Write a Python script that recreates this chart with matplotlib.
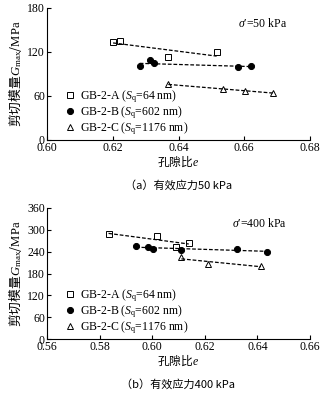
import numpy as np
import matplotlib
matplotlib.use('Agg')
import matplotlib.pyplot as plt

plt.rcParams['font.family'] = ['Liberation Serif', 'Noto Sans CJK SC']
plt.rcParams['mathtext.fontset'] = 'custom'
plt.rcParams['mathtext.rm'] = 'Liberation Serif'
plt.rcParams['mathtext.it'] = 'Liberation Serif:italic'
plt.rcParams['mathtext.bf'] = 'Liberation Serif:bold'

# (a) 有效应力 50 kPa
e_a50 = [0.6201, 0.6221, 0.6369, 0.6516]
g_a50 = [133.5, 134.9, 113.0, 119.4]
e_b50 = [0.6282, 0.6313, 0.6326, 0.6582, 0.6620]
g_b50 = [100.3, 108.5, 104.4, 98.9, 101.2]
e_c50 = [0.6369, 0.6536, 0.6602, 0.6686]
g_c50 = [76.1, 69.3, 66.5, 64.7]

# (b) 有效应力 400 kPa
e_a400 = [0.5834, 0.6019, 0.6092, 0.6139]
g_a400 = [287.9, 283.3, 253.2, 265.0]
e_b400 = [0.5938, 0.5985, 0.6004, 0.6111, 0.6321, 0.6435]
g_b400 = [255.0, 254.0, 246.8, 244.0, 247.7, 239.5]
e_c400 = [0.6111, 0.6214, 0.6413]
g_c400 = [224.9, 205.7, 201.1]

labels = ['GB-2-A ($S_\\mathrm{q}$=64 nm)',
          'GB-2-B ($S_\\mathrm{q}$=602 nm)',
          'GB-2-C ($S_\\mathrm{q}$=1176 nm)']
styles = [dict(marker='s', mfc='white', mec='black', ms=3.8),
          dict(marker='o', mfc='black', mec='black', ms=4.4),
          dict(marker='^', mfc='white', mec='black', ms=4.6)]

cjk = {'family': ['Noto Sans CJK SC', 'Liberation Serif']}

fig = plt.figure(figsize=(3.26, 3.95), dpi=100)
W, H = 326, 395


def panel(box, series, xlim, xticks, ylim, yticks, sigma, caption):
    l, t, r, b = box
    ax = fig.add_axes([l / W, 1 - b / H, (r - l) / W, (b - t) / H])
    for (e, g), st, lab in zip(series, styles, labels):
        ax.plot(e, g, ls='none', mew=0.7, label=lab, **st)
        k, c = np.polyfit(e, g, 1)
        xs = np.array([min(e), max(e)])
        ax.plot(xs, k * xs + c, ls=(0, (3, 1.5)), color='black', lw=0.9)
    ax.set_xlim(*xlim)
    ax.set_ylim(*ylim)
    ax.set_xticks(xticks)
    ax.set_yticks(yticks)
    ax.set_xticklabels(['%.2f' % v for v in xticks])
    ax.spines['top'].set_visible(False)
    ax.spines['right'].set_visible(False)
    for s in ('left', 'bottom'):
        ax.spines[s].set_linewidth(0.8)
    ax.tick_params(direction='in', length=3, width=0.8, labelsize=8.5, pad=1.5)
    ax.set_xlabel('孔隙比$e$', fontsize=8.5, labelpad=0, **cjk)
    ax.set_ylabel('剪切模量$G_\\mathrm{max}$/$\\mathrm{MPa}$', fontsize=9.2,
                  labelpad=2, **cjk)
    ax.text(0.913, 0.885, sigma, transform=ax.transAxes, ha='right',
            va='center', fontsize=8.5)
    ax.legend(loc='lower left', bbox_to_anchor=(0.03, -0.04), frameon=False,
              fontsize=8.5, handletextpad=0.25, labelspacing=-0.05,
              handlelength=1.2, borderaxespad=0.3)
    fig.text((l + r) / 2 / W, 1 - (b + 45) / H, caption, ha='center',
             va='center', fontsize=8, **cjk)
    return ax


panel((47, 8, 310, 140),
      [(e_a50, g_a50), (e_b50, g_b50), (e_c50, g_c50)],
      (0.60, 0.68), [0.60, 0.62, 0.64, 0.66, 0.68],
      (0, 180), [0, 60, 120, 180],
      "$\\sigma$′=50 kPa", '（a）有效应力50 kPa')

panel((47, 208, 310, 339),
      [(e_a400, g_a400), (e_b400, g_b400), (e_c400, g_c400)],
      (0.56, 0.66), [0.56, 0.58, 0.60, 0.62, 0.64, 0.66],
      (0, 360), [0, 60, 120, 180, 240, 300, 360],
      "$\\sigma$′=400 kPa", '（b）有效应力400 kPa')

fig.savefig('out.png', dpi=100)
